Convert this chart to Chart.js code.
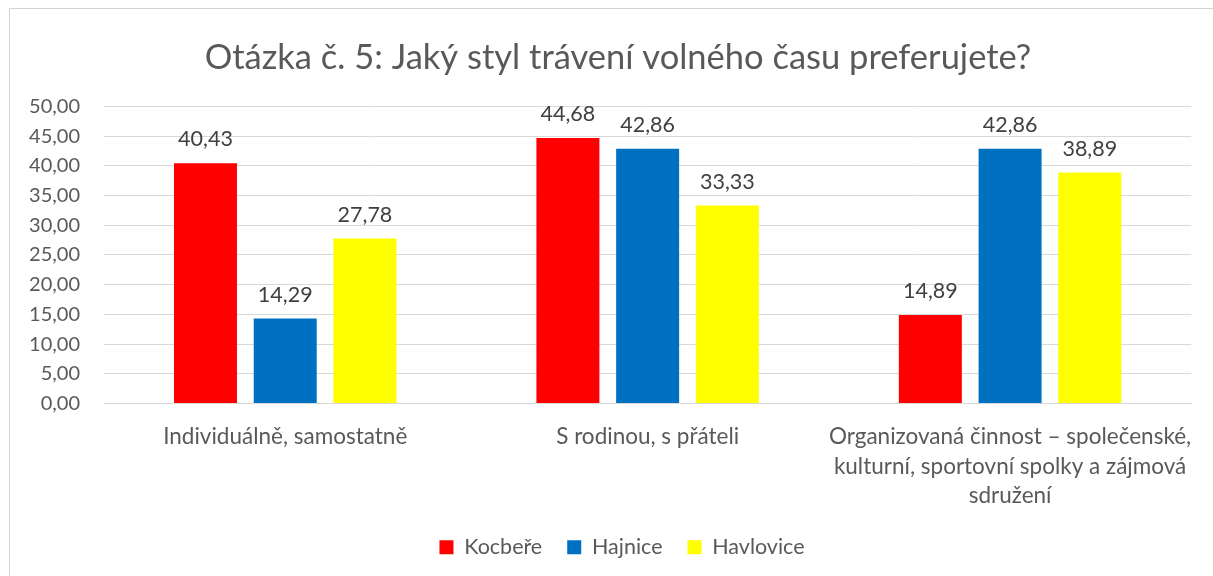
<!DOCTYPE html>
<html>
<head>
<meta charset="utf-8">
<script src="https://cdn.jsdelivr.net/npm/chart.js@4/dist/chart.umd.min.js"></script>
<style>
  html, body { margin: 0; padding: 0; background: #fff; }
  #wrap { position: relative; width: 1213px; height: 576px; }
  #frame {
    position: absolute; left: 9px; top: 8px; right: -5px; bottom: -5px;
    border-left: 1px solid #d4d4d4; border-top: 1px solid #d4d4d4;
    pointer-events: none;
  }
</style>
</head>
<body>
<div id="wrap">
  <canvas id="chart" width="1213" height="576"></canvas>
  <div id="frame"></div>
</div>
<script>
const categories = [
  "Individuálně, samostatně",
  "S rodinou, s přáteli",
  ["Organizovaná činnost – společenské,", "kulturní, sportovní spolky a zájmová", "sdružení"],
];
const kocbere = [40.43, 44.68, 14.89];
const hajnice = [14.29, 42.86, 42.86];
const havlovice = [27.78, 33.33, 38.89];
const yTicks = [0, 5, 10, 15, 20, 25, 30, 35, 40, 45, 50];

const fontFamily = "Lato, 'Open Sans', sans-serif";

function formatCz(v) {
  return v.toFixed(2).replace(".", ",");
}

// draws the value above each bar
const valueLabels = {
  id: "valueLabels",
  afterDatasetsDraw(chart) {
    const ctx = chart.ctx;
    ctx.save();
    ctx.font = "21.5px " + fontFamily;
    ctx.fillStyle = "#404040";
    ctx.textAlign = "center";
    ctx.textBaseline = "bottom";
    chart.data.datasets.forEach((ds, i) => {
      chart.getDatasetMeta(i).data.forEach((bar, j) => {
        ctx.fillText(formatCz(ds.data[j]), bar.x, bar.y - 13);
      });
    });
    ctx.restore();
  },
};

// title and legend in the original sit a bit right of centre
const blockShift = {
  id: "blockShift",
  afterLayout(chart) {
    chart.legend.left += 24;
    chart.legend.right += 24;
    chart.titleBlock.left += 20;
    chart.titleBlock.right += 20;
  },
};

const barStyle = {
  categoryPercentage: 0.66,
  barPercentage: 0.79,
};

new Chart(document.getElementById("chart"), {
  type: "bar",
  data: {
    labels: categories,
    datasets: [
      { label: "Kocbeře", data: kocbere, backgroundColor: "#FF0000", ...barStyle },
      { label: "Hajnice", data: hajnice, backgroundColor: "#0070C0", ...barStyle },
      { label: "Havlovice", data: havlovice, backgroundColor: "#FFFF00", ...barStyle },
    ],
  },
  options: {
    responsive: false,
    animation: false,
    layout: { padding: { left: 0, right: 17, top: 24, bottom: 8 } },
    plugins: {
      title: {
        display: true,
        text: "Otázka č. 5: Jaký styl trávení volného času preferujete?",
        color: "#595959",
        font: { family: fontFamily, size: 34.5, weight: "normal" },
        padding: { top: 13, bottom: 28 },
      },
      legend: {
        position: "bottom",
        labels: {
          boxWidth: 14,
          boxHeight: 14,
          padding: 25,
          color: "#595959",
          font: { family: fontFamily, size: 21.5 },
        },
      },
      tooltip: { enabled: false },
    },
    scales: {
      x: {
        grid: { display: false, drawTicks: false },
        border: { color: "#d9d9d9", width: 1 },
        afterFit(axis) {
          axis.height = 108;
        },
        ticks: {
          color: "#595959",
          font: { family: fontFamily, size: 22.5, lineHeight: 1.3 },
          maxRotation: 0,
          autoSkip: false,
          padding: 19,
        },
      },
      y: {
        min: 0,
        max: 50,
        afterBuildTicks(axis) {
          axis.ticks = yTicks.map((v) => ({ value: v }));
        },
        afterFit(axis) {
          axis.width = 104;
        },
        grid: { color: "#d9d9d9", drawTicks: false },
        border: { display: false },
        ticks: {
          color: "#595959",
          padding: 24,
          font: { family: fontFamily, size: 20 },
          callback: (v) => formatCz(v),
        },
      },
    },
  },
  plugins: [valueLabels, blockShift],
});
</script>
</body>
</html>
